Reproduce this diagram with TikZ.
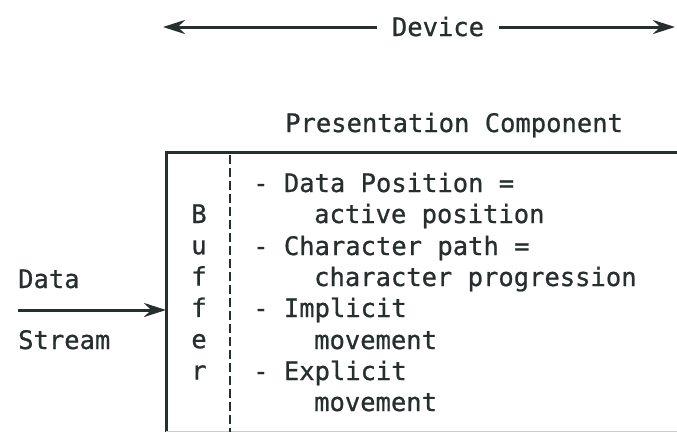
\documentclass[tikz,border=0pt]{standalone}
\usepackage{fontspec}
\setmonofont[FakeBold=0.8]{DejaVu Sans Mono}
\usepackage{tikz}
\usetikzlibrary{positioning, arrows.meta}
\definecolor{ink}{RGB}{38,46,46}
\tikzstyle{txt}=[%
      text=ink, font=\ttfamily\fontsize{25.5}{26}\selectfont,
      inner sep=0pt, anchor=base west
]
\tikzstyle{wire}=[%
      draw=ink, line width=3pt
]
\tikzstyle{flow}=[%
      wire, -{Stealth[length=22pt, width=14pt]}
]

\begin{document}
\begin{tikzpicture}[x=1pt, y=-1pt]
    \useasboundingbox (0,0) rectangle (677,432);

    % device span
    \node[txt, anchor=base, inner xsep=15pt] (dev) at (438,36) {Device};
    \coordinate (devl) at (163,27);
    \coordinate (devr) at (675,27);
    \draw[flow] (dev.west |- devl) -- (devl);
    \draw[flow] (dev.east |- devr) -- (devr);

    % presentation component box
    \node[txt] (pc) at (285,132) {Presentation Component};
    \coordinate (boxbl) at (166,432);
    \coordinate (boxtl) at (166,152);
    \coordinate (boxtr) at (677,152);
    \draw[wire] (boxbl) -- (boxtl) -- (boxtr);
    \draw[draw=gray!40, line width=1pt] (166,431) -- (677,431);
    \coordinate (sept) at (230,155);
    \coordinate (sepb) at (230,432);
    \draw[wire, line width=2.4pt, dash pattern=on 9pt off 4pt] (sept) -- (sepb);

    % buffer
    \foreach \ch [count=\i] in {B,u,f,f,e,r}
        \node[txt, anchor=base] (buf\i) at (199,{223+31.3*(\i-1)}) {\ch};

    % attributes
    \node[txt] (a1) at (253,192) {- Data Position =};
    \node[txt] (a2) at (314,223) {active position};
    \node[txt] (a3) at (253,255) {- Character path =};
    \node[txt] (a4) at (314,286) {character progression};
    \node[txt] (a5) at (253,317) {- Implicit};
    \node[txt] (a6) at (314,349) {movement};
    \node[txt] (a7) at (253,380) {- Explicit};
    \node[txt] (a8) at (314,411) {movement};

    % data stream
    \node[txt] (data) at (18,288) {Data};
    \node[txt] (stream) at (18,349) {Stream};
    \coordinate (dsrc) at (18,310);
    \coordinate (din) at (166,310);
    \draw[flow] (dsrc) -- (din);

\end{tikzpicture}
\end{document}
